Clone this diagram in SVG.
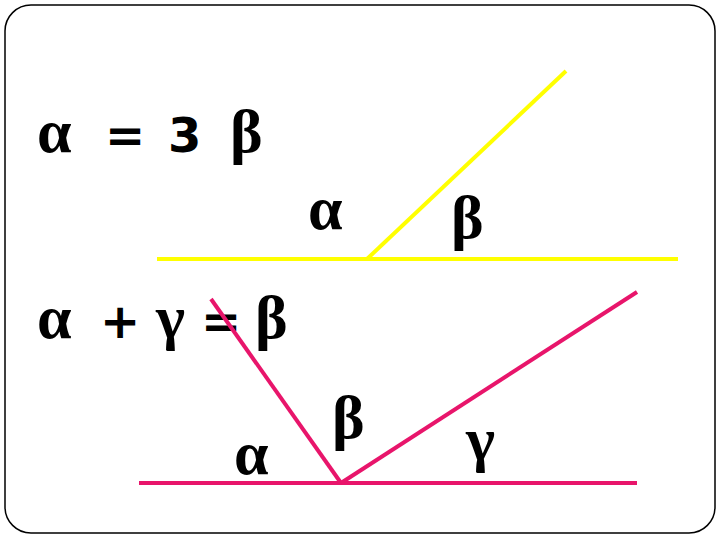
<svg xmlns="http://www.w3.org/2000/svg" width="720" height="540" viewBox="0 0 720 540">
<style>
.g{font-family:"Liberation Serif","DejaVu Serif",serif;font-weight:bold;font-size:62px;fill:#000}
.s{font-family:"DejaVu Sans","Liberation Sans",sans-serif;font-weight:bold;font-size:48px;fill:#000}
.y{stroke:#FFFF00;stroke-width:4;fill:none}
.m{stroke:#E8156B;stroke-width:4;fill:none}
</style>
<rect x="5" y="5" width="710" height="528" rx="26" ry="26" fill="#fff" stroke="#000" stroke-width="1.5"/>
<g id="eq1"><text class="g" y="152"><tspan x="37">α</tspan><tspan class="s" x="80"> </tspan><tspan class="s" x="105" font-size="40">=</tspan><tspan class="s" x="140"> </tspan><tspan class="s" x="168">3</tspan><tspan class="s" x="205"> </tspan><tspan x="230">β</tspan></text></g>
<g id="eq2"><text class="g" y="338"><tspan x="37">α</tspan><tspan class="s" x="80"> </tspan><tspan class="s" x="100" font-size="40">+</tspan><tspan class="s" x="135"> </tspan><tspan x="156">γ</tspan><tspan class="s" x="190"> </tspan><tspan class="s" x="201" font-size="40">=</tspan><tspan class="s" x="240"> </tspan><tspan x="255">β</tspan></text></g>
<g id="connectors">
<line class="y" x1="157" y1="259" x2="678" y2="259"/>
<line class="y" x1="367" y1="259" x2="566" y2="71"/>
<line class="m" x1="139" y1="483" x2="637" y2="483"/>
<line class="m" x1="211" y1="299" x2="341" y2="483"/>
<line class="m" x1="341" y1="483" x2="637" y2="292"/>
</g>
<g id="lbl-a1"><text class="g" x="308" y="229">α</text></g>
<g id="lbl-b1"><text class="g" x="451" y="238">β</text></g>
<g id="lbl-b2"><text class="g" x="332" y="438">β</text></g>
<g id="lbl-g2"><text class="g" x="466" y="460">γ</text></g>
<g id="lbl-a2"><text class="g" x="234" y="474">α</text></g>
</svg>
